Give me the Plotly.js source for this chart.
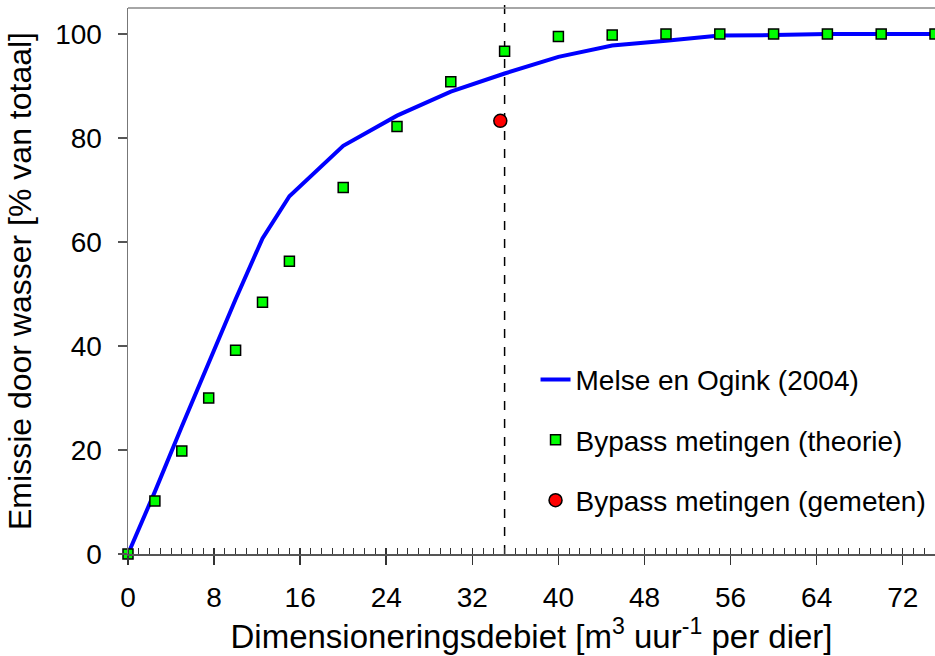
<!DOCTYPE html>
<html>
<head>
<meta charset="utf-8">
<script src="https://cdn.plot.ly/plotly-3.0.1.min.js"></script>
<style>html,body{margin:0;padding:0;background:#fff;}#chart{width:935px;height:656px;}</style>
</head>
<body>
<div id="chart"></div>
<script>
// Model curve: Melse en Ogink (2004)
const modelX = [0, 2.5, 5, 7.5, 10, 12.5, 15, 20, 25, 30, 35, 40, 45, 50, 55, 60, 65, 70, 75];
const modelY = [0, 12, 24.5, 37, 49, 60.7, 68.8, 78.5, 84.3, 88.9, 92.4, 95.6, 97.8, 98.7, 99.7, 99.8, 100, 100, 100];

// Bypass metingen (theorie)
const theoryX = [0, 2.5, 5, 7.5, 10, 12.5, 15, 20, 25, 30, 35, 40, 45, 50, 55, 60, 65, 70, 75];
const theoryY = [0, 10.2, 19.8, 30, 39.2, 48.4, 56.3, 70.5, 82.2, 90.8, 96.7, 99.5, 99.8, 100, 100, 100, 100, 100, 100];

// Bypass metingen (gemeten)
const measX = [34.6];
const measY = [83.3];

// Design flow reference line
const refLineX = 35;

const names = ["Melse en Ogink (2004)", "Bypass metingen (theorie)", "Bypass metingen (gemeten)"];
const xTicks = [0, 8, 16, 24, 32, 40, 48, 56, 64, 72];
const yTicks = [0, 20, 40, 60, 80, 100];

const font = "Liberation Sans, Arial, sans-serif";

const traces = [
  {x: modelX, y: modelY, type: "scatter", mode: "lines", name: names[0], legendgroup: "a",
   line: {color: "#0000FF", width: 4}, cliponaxis: false},
  {x: theoryX, y: theoryY, type: "scatter", mode: "markers", name: names[1], legendgroup: "b",
   marker: {symbol: "square", size: 10, color: "#00FF00", line: {color: "#000", width: 1.5}}, cliponaxis: false},
  {x: measX, y: measY, type: "scatter", mode: "markers", name: names[2], legendgroup: "c",
   marker: {symbol: "circle", size: 13, color: "#FF0000", line: {color: "#000", width: 1.5}}, cliponaxis: false},
  {x: [], y: [], xaxis: "x2", type: "scatter", mode: "markers", showlegend: false, hoverinfo: "skip"}
];

const layout = {
  width: 935, height: 656,
  margin: {l: 128, r: 0, t: 8, b: 102},
  paper_bgcolor: "#fff", plot_bgcolor: "#fff",
  font: {family: font, color: "#000", size: 28},
  showlegend: true,
  legend: {x: 0.505, xanchor: "left", y: 0.365, yanchor: "top", bgcolor: "rgba(0,0,0,0)",
           font: {family: font, size: 28, color: "#000"}, tracegroupgap: 21, traceorder: "grouped"},
  xaxis: {
    range: [0, 75], tickvals: xTicks, ticktext: xTicks.map(String),
    showgrid: false, zeroline: false, showline: true, linecolor: "#555", linewidth: 1.5,
    ticks: "outside", ticklen: 9, tickwidth: 1.5, tickcolor: "#333",
    ticklabelstandoff: 9,
    minor: {dtick: 1, ticks: "inside", ticklen: 6, tickwidth: 1, tickcolor: "#333", showgrid: false},
    tickfont: {family: font, size: 28, color: "#000"},
    title: {text: "Dimensioneringsdebiet [m<sup>3</sup> uur<sup>-1</sup> per dier]", font: {family: font, size: 33, color: "#000"}, standoff: 2}
  },
  xaxis2: {
    overlaying: "x", anchor: "y", side: "bottom", range: [0, 75], tickvals: xTicks,
    showticklabels: false, showgrid: false, zeroline: false, showline: false,
    ticks: "inside", ticklen: 6, tickwidth: 1.5, tickcolor: "#333"
  },
  yaxis: {
    range: [0, 105], tickvals: yTicks, ticktext: yTicks.map(String),
    showgrid: false, zeroline: false, showline: true, linecolor: "#777", linewidth: 1.5,
    ticks: "outside", ticklen: 9, tickwidth: 1.5, tickcolor: "#555",
    ticklabelstandoff: 10,
    tickfont: {family: font, size: 28, color: "#000"},
    title: {text: "Emissie door wasser [% van totaal]", font: {family: font, size: 32, color: "#000"}, standoff: 14}
  },
  shapes: [
    {type: "line", xref: "x", yref: "paper", x0: refLineX, x1: refLineX, y0: 0, y1: 1.01,
     line: {color: "#000", width: 1.5, dash: "dash"}, layer: "below"},
    {type: "line", xref: "paper", yref: "paper", x0: 0, x1: 1, y0: 1, y1: 1,
     line: {color: "#888", width: 1.5}}
  ]
};

Plotly.newPlot("chart", traces, layout, {displayModeBar: false, staticPlot: true});
</script>
</body>
</html>
